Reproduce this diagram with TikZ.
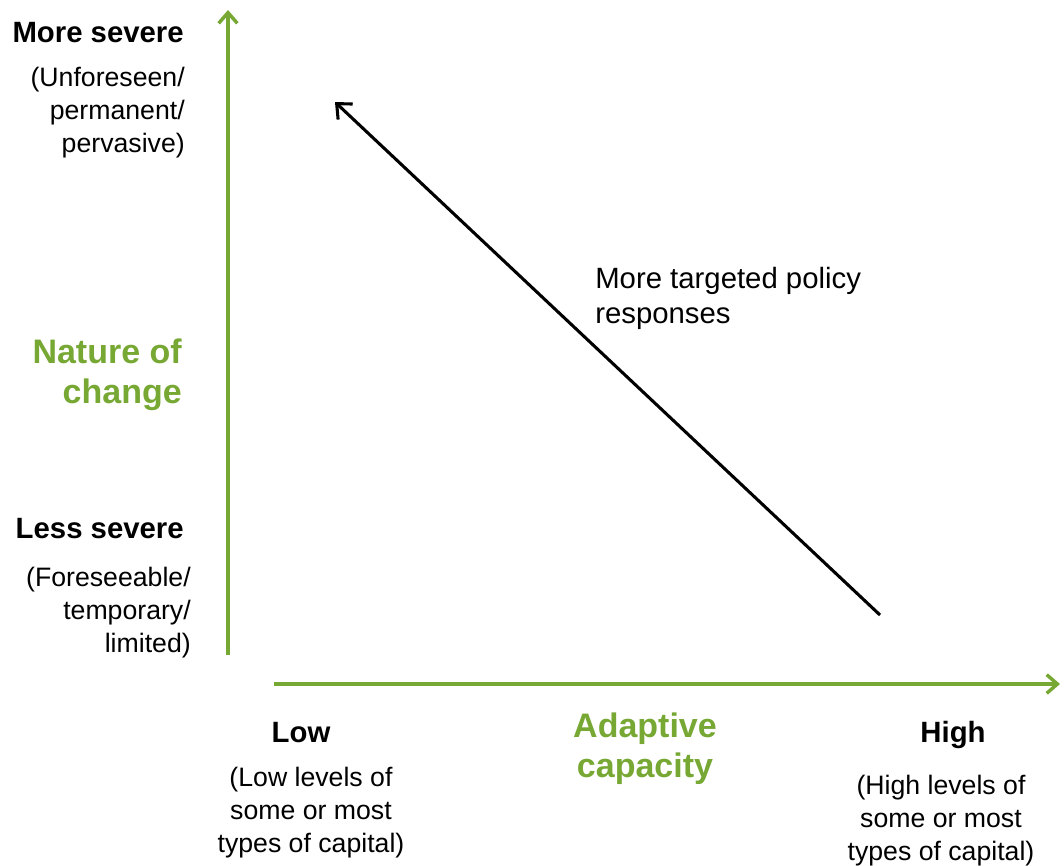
\documentclass[tikz,border=0pt]{standalone}
\usepackage{fontspec}
\setmainfont{Liberation Sans}
\usetikzlibrary{arrows.meta}
\definecolor{axisgreen}{RGB}{119,168,52}

\begin{document}
\begin{tikzpicture}[x=0.75pt,y=-0.75pt,
    axis/.style={draw=axisgreen, line width=2.6pt, -{Straight Barb[length=8pt,width=14pt]}},
    level/.style={font=\fontsize{22}{26}\selectfont\bfseries, inner sep=0pt},
    note/.style={font=\fontsize{20}{24.75}\selectfont, inner sep=0pt},
    title/.style={font=\fontsize{25.5}{30}\selectfont\bfseries, text=axisgreen, inner sep=0pt}]

\useasboundingbox (0,0) rectangle (1064,865);

    % axes
    \coordinate (vstart) at (228,655);
    \coordinate (vend) at (228,10);
    \coordinate (hstart) at (274,684);
    \coordinate (hend) at (1060,684);
    \draw[axis] (vstart)--(vend);
    \draw[axis] (hstart)--(hend);

    % vertical axis labels
    \node[level, anchor=east] (moresev) at (184,33) {More severe};
    \node[note, anchor=east, align=right] (unforeseen) at (185,113) {(Unforeseen/\\permanent/\\pervasive)};
    \node[title, anchor=east, align=right] (nature) at (182,375) {Nature of\\change};
    \node[level, anchor=east] (lesssev) at (184,529) {Less severe};
    \node[note, anchor=east, align=right] (foreseeable) at (191,613) {(Foreseeable/\\temporary/\\limited)};

    % horizontal axis labels
    \node[level] (low) at (301,733) {Low};
    \node[note, align=center] (lowlevels) at (311,813) {(Low levels of\\some or most\\types of capital)};
    \node[title, align=center] (adaptive) at (645,749) {Adaptive\\capacity};
    \node[level] (high) at (953,735) {High};
    \node[note, align=center] (highlevels) at (941,821) {(High levels of\\some or most\\types of capital)};

    % policy arrow
    \coordinate (pstart) at (880,615);
    \coordinate (pend) at (335,102);
    \draw[line width=2.3pt, -{Straight Barb[length=9pt,width=16pt]}] (pstart)--(pend);
    \node[note, font=\fontsize{22}{26.25}\selectfont, anchor=west, align=left] (policy) at (595,298) {More targeted policy\\responses};
     \end{tikzpicture}
\end{document}
